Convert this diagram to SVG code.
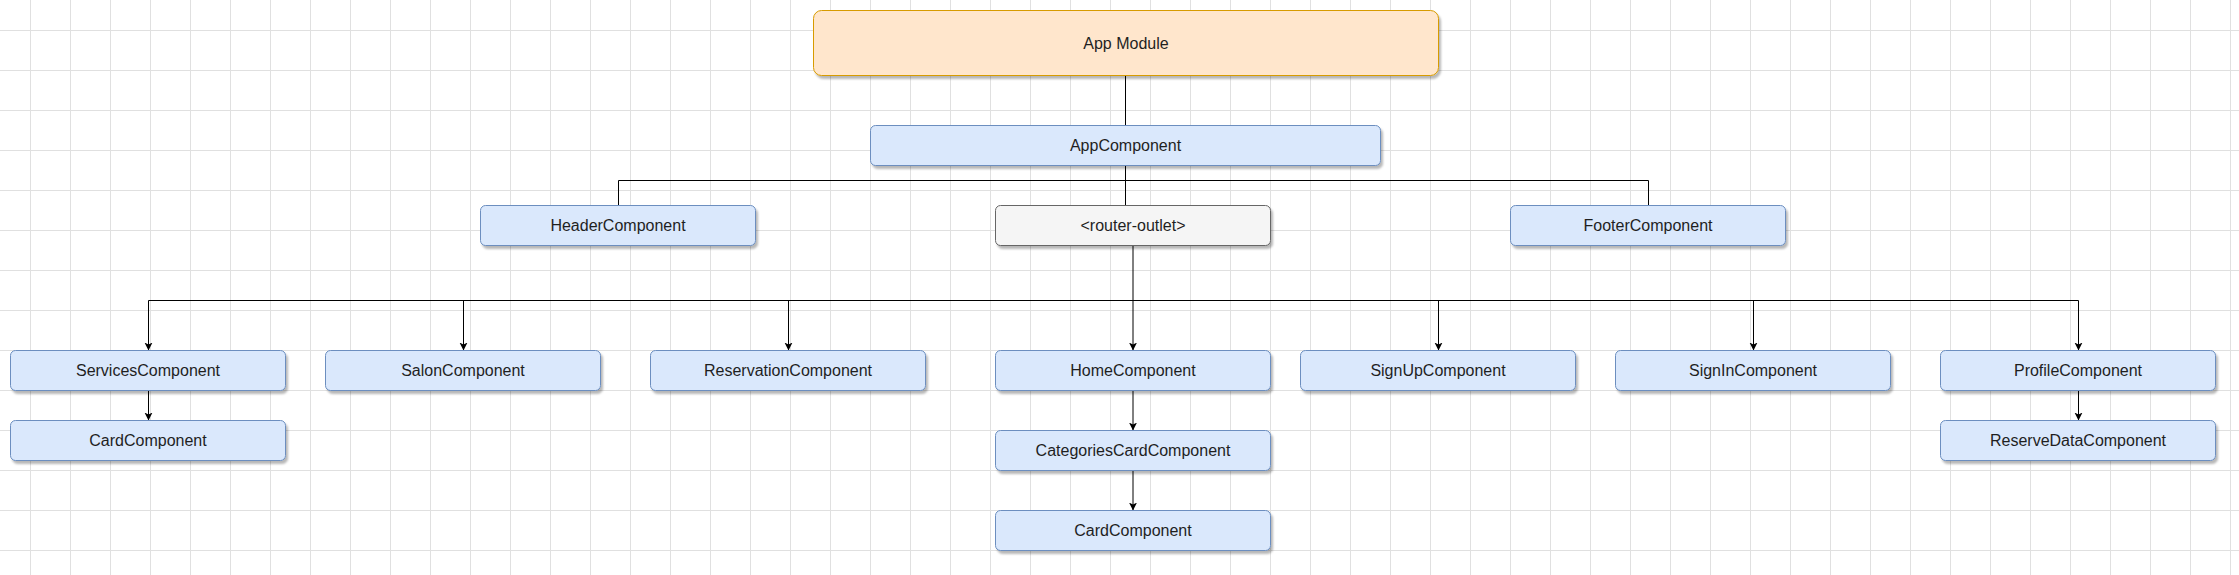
<svg xmlns="http://www.w3.org/2000/svg" width="2239" height="575" viewBox="0 0 2239 575">
  <defs>
    <pattern id="gridMinor" x="0" y="0" width="10" height="10" patternUnits="userSpaceOnUse">
      <path d="M10.5 0 V10 M0 10.5 H10" stroke="#f3f3f3" stroke-width="1" fill="none"/>
    </pattern>
    <pattern id="gridMajor" x="30" y="30" width="40" height="40" patternUnits="userSpaceOnUse">
      <path d="M0.5 0 V40 M0 0.5 H40" stroke="#e0e0e0" stroke-width="1" fill="none"/>
    </pattern>
    <filter id="shadow" x="-10%" y="-20%" width="130%" height="160%">
      <feDropShadow dx="2" dy="3" stdDeviation="1.2" flood-color="#000" flood-opacity="0.28"/>
    </filter>
    <marker id="arrow" markerWidth="10" markerHeight="10" refX="8" refY="4" orient="auto" markerUnits="userSpaceOnUse" viewBox="0 0 10 8">
      <path d="M0,0 L8,4 L0,8 L2,4 z" fill="#000"/>
    </marker>
  </defs>
  <style>
    .blue { fill: #dae8fc; stroke: #6c8ebf; stroke-width: 1; filter: url(#shadow); }
    .orange { fill: #ffe6cc; stroke: #d79b00; stroke-width: 1; filter: url(#shadow); }
    .gray { fill: #f5f5f5; stroke: #666666; stroke-width: 1; filter: url(#shadow); }
    .lbl { font-family: "Liberation Sans", Arial, sans-serif; font-size: 16px; fill: #1f1f1f; text-anchor: middle; }
    .edge { stroke: #000; stroke-width: 1; fill: none; }
    .arr { marker-end: url(#arrow); }
  </style>

  <rect width="2239" height="575" fill="#ffffff"/>
  <rect width="2239" height="575" fill="url(#gridMinor)"/>
  <rect width="2239" height="575" fill="url(#gridMajor)"/>

  <g id="connectors">
    <path class="edge" d="M1125.5 75.5 V125.5"/>
    <path class="edge" d="M1125.5 165.5 V205.5"/>
    <path class="edge" d="M618.5 205.5 V180.5 H1648.5 V205.5"/>
    <path class="edge" d="M1133 245.5 V300.5"/>
    <path class="edge" d="M148.5 300.5 H2078.5"/>
    <path class="edge arr" d="M148.5 300.5 V350.5"/>
    <path class="edge arr" d="M463.5 300.5 V350.5"/>
    <path class="edge arr" d="M788.5 300.5 V350.5"/>
    <path class="edge arr" d="M1133 300.5 V350.5"/>
    <path class="edge arr" d="M1438.5 300.5 V350.5"/>
    <path class="edge arr" d="M1753.5 300.5 V350.5"/>
    <path class="edge arr" d="M2078.5 300.5 V350.5"/>
    <path class="edge arr" d="M148.5 390.5 V420.5"/>
    <path class="edge arr" d="M1133 390.5 V430.5"/>
    <path class="edge arr" d="M1133 470.5 V510.5"/>
    <path class="edge arr" d="M2078.5 390.5 V420.5"/>
  </g>

  <g id="app-module">
    <rect class="orange" x="813.5" y="10.5" width="625" height="65" rx="8"/>
    <text class="lbl" x="1126" y="48.5">App Module</text>
  </g>
  <g id="app-component">
    <rect class="blue" x="870.5" y="125.5" width="510" height="40" rx="5"/>
    <text class="lbl" x="1125.5" y="151">AppComponent</text>
  </g>
  <g id="header-component">
    <rect class="blue" x="480.5" y="205.5" width="275" height="40" rx="5"/>
    <text class="lbl" x="618" y="231">HeaderComponent</text>
  </g>
  <g id="router-outlet">
    <rect class="gray" x="995.5" y="205.5" width="275" height="40" rx="5"/>
    <text class="lbl" x="1133" y="231">&lt;router-outlet&gt;</text>
  </g>
  <g id="footer-component">
    <rect class="blue" x="1510.5" y="205.5" width="275" height="40" rx="5"/>
    <text class="lbl" x="1648" y="231">FooterComponent</text>
  </g>

  <g id="services-component">
    <rect class="blue" x="10.5" y="350.5" width="275" height="40" rx="5"/>
    <text class="lbl" x="148" y="376">ServicesComponent</text>
  </g>
  <g id="services-card-component">
    <rect class="blue" x="10.5" y="420.5" width="275" height="40" rx="5"/>
    <text class="lbl" x="148" y="446">CardComponent</text>
  </g>
  <g id="salon-component">
    <rect class="blue" x="325.5" y="350.5" width="275" height="40" rx="5"/>
    <text class="lbl" x="463" y="376">SalonComponent</text>
  </g>
  <g id="reservation-component">
    <rect class="blue" x="650.5" y="350.5" width="275" height="40" rx="5"/>
    <text class="lbl" x="788" y="376">ReservationComponent</text>
  </g>
  <g id="home-component">
    <rect class="blue" x="995.5" y="350.5" width="275" height="40" rx="5"/>
    <text class="lbl" x="1133" y="376">HomeComponent</text>
  </g>
  <g id="categories-card-component">
    <rect class="blue" x="995.5" y="430.5" width="275" height="40" rx="5"/>
    <text class="lbl" x="1133" y="456">CategoriesCardComponent</text>
  </g>
  <g id="home-card-component">
    <rect class="blue" x="995.5" y="510.5" width="275" height="40" rx="5"/>
    <text class="lbl" x="1133" y="536">CardComponent</text>
  </g>
  <g id="signup-component">
    <rect class="blue" x="1300.5" y="350.5" width="275" height="40" rx="5"/>
    <text class="lbl" x="1438" y="376">SignUpComponent</text>
  </g>
  <g id="signin-component">
    <rect class="blue" x="1615.5" y="350.5" width="275" height="40" rx="5"/>
    <text class="lbl" x="1753" y="376">SignInComponent</text>
  </g>
  <g id="profile-component">
    <rect class="blue" x="1940.5" y="350.5" width="275" height="40" rx="5"/>
    <text class="lbl" x="2078" y="376">ProfileComponent</text>
  </g>
  <g id="reserve-data-component">
    <rect class="blue" x="1940.5" y="420.5" width="275" height="40" rx="5"/>
    <text class="lbl" x="2078" y="446">ReserveDataComponent</text>
  </g>
</svg>
